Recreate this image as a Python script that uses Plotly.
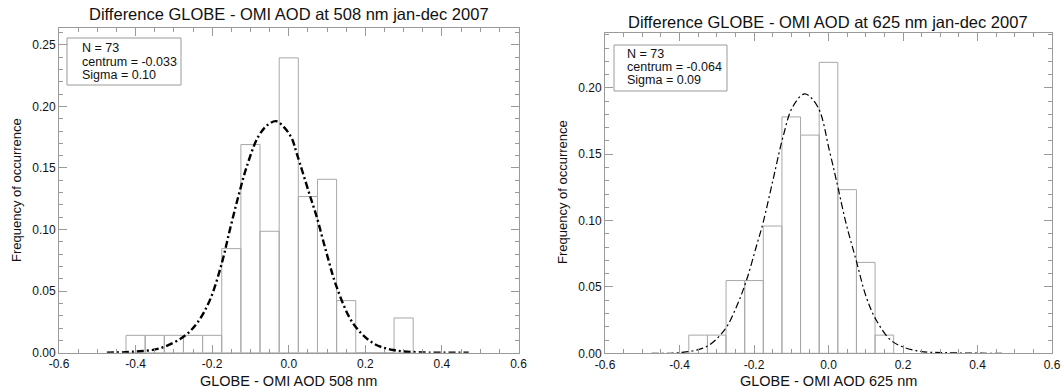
import plotly.graph_objects as go

W, H = 1062, 390

# ---------------- data ----------------
bin_centers = [-0.40, -0.35, -0.30, -0.25, -0.20, -0.15, -0.10, -0.05, 0.00,
               0.05, 0.10, 0.15, 0.20, 0.25, 0.30]
freq_508 = [0.0141, 0.0141, 0.0141, 0.0141, 0.0141, 0.0845, 0.1690, 0.0986,
            0.2394, 0.1268, 0.1408, 0.0423, 0.0, 0.0, 0.0282]

bin_centers_625 = [-0.35, -0.30, -0.25, -0.20, -0.15, -0.10, -0.05, 0.00,
                   0.05, 0.10, 0.15]
freq_625 = [0.0137, 0.0137, 0.0548, 0.0548, 0.0959, 0.1781, 0.1644, 0.2192,
            0.1233, 0.0685, 0.0137]

# fitted gaussian curves
fit508_x = [-0.475, -0.406, -0.336, -0.275, -0.240, -0.206, -0.175, -0.154,
            -0.132, -0.110, -0.080, -0.055, -0.033, -0.012, 0.008, 0.021,
            0.055, 0.073, 0.099, 0.125, 0.168, 0.221, 0.273, 0.343, 0.470]
fit508_y = [0.0, 0.0008, 0.0036, 0.0130, 0.0238, 0.0427, 0.0725, 0.0995,
            0.1265, 0.1508, 0.1752, 0.1850, 0.1880, 0.1830, 0.1740, 0.1617,
            0.1279, 0.1103, 0.0806, 0.0535, 0.0238, 0.0076, 0.0022, 0.0003, 0.0]

fit625_x = [-0.475, -0.399, -0.328, -0.279, -0.247, -0.220, -0.194, -0.176,
            -0.149, -0.122, -0.096, -0.064, -0.029, 0.003, 0.025, 0.047,
            0.074, 0.101, 0.128, 0.172, 0.235, 0.315, 0.471]
fit625_y = [0.0, 0.0005, 0.0050, 0.0176, 0.0351, 0.0552, 0.0803, 0.0980,
            0.1306, 0.1632, 0.1858, 0.1954, 0.1858, 0.1520, 0.1255, 0.0980,
            0.0703, 0.0427, 0.0251, 0.0088, 0.0020, 0.0005, 0.0]

titles = ["Difference GLOBE - OMI AOD at 508 nm jan-dec 2007",
          "Difference GLOBE - OMI AOD at 625 nm jan-dec 2007"]
xtitles = ["GLOBE - OMI AOD 508 nm", "GLOBE - OMI AOD 625 nm"]
ytitle = "Frequency of occurrence"
stats_508 = ["N = 73", "centrum = -0.033", "Sigma = 0.10"]
stats_625 = ["N = 73", "centrum = -0.064", "Sigma = 0.09"]

x_tickvals = [-0.6, -0.4, -0.2, 0.0, 0.2, 0.4, 0.6]
x_ticktext = ["-0.6", "-0.4", "-0.2", "0.0", "0.2", "0.4", "0.6"]
y_tickvals = [0.0, 0.05, 0.10, 0.15, 0.20, 0.25]
y_ticktext = ["0.00", "0.05", "0.10", "0.15", "0.20", "0.25"]
x_range = [-0.6, 0.6]
y_max = [0.2634, 0.2411]

# ---------------- styling ----------------
FONT = "Liberation Sans, Arial, Helvetica, sans-serif"
FRAME = "#9a9a9a"
BARLINE = "#a8a8a8"
TXT = "#111"


def px(x):
    return x / W


def py(y):
    return 1 - y / H


fig = go.Figure()

fig.add_trace(go.Bar(x=bin_centers, y=freq_508, width=0.05,
                     marker=dict(color="rgba(255,255,255,0)",
                                 line=dict(color=BARLINE, width=1)),
                     xaxis="x", yaxis="y", showlegend=False))
fig.add_trace(go.Scatter(x=fit508_x, y=fit508_y, mode="lines",
                         line=dict(color="black", width=2.4, dash="7px,3px,2px,3px",
                                   shape="spline", smoothing=1.0),
                         xaxis="x", yaxis="y", showlegend=False))

fig.add_trace(go.Bar(x=bin_centers_625, y=freq_625, width=0.05,
                     marker=dict(color="rgba(255,255,255,0)",
                                 line=dict(color=BARLINE, width=1)),
                     xaxis="x2", yaxis="y2", showlegend=False))
fig.add_trace(go.Scatter(x=fit625_x, y=fit625_y, mode="lines",
                         line=dict(color="black", width=1.2, dash="7px,3px,2px,3px",
                                   shape="spline", smoothing=1.0),
                         xaxis="x2", yaxis="y2", showlegend=False))

common_axis = dict(showline=True, linecolor=FRAME, linewidth=1, mirror="allticks",
                   ticks="inside", tickcolor=FRAME, ticklen=8, tickwidth=1,
                   showgrid=False, zeroline=False, automargin=False,
                   tickfont=dict(family=FONT, size=12, color=TXT))
xminor = dict(dtick=0.05, ticks="inside", ticklen=4, tickcolor=FRAME)
yminor = dict(dtick=0.01, ticks="inside", ticklen=4, tickcolor=FRAME)

# pixel geometry of the two plot frames
left = dict(x0=59, x1=518.5, y0=28.3, y1=352.7)
right = dict(x0=605, x1=1052, y0=33.3, y1=353.3)

fig.update_layout(
    width=W, height=H, margin=dict(l=0, r=0, t=0, b=0, autoexpand=False),
    paper_bgcolor="white", plot_bgcolor="white",
    barmode="overlay", font=dict(family=FONT, color=TXT),
    xaxis=dict(domain=[px(left["x0"]), px(left["x1"])], range=x_range,
               tickvals=x_tickvals, ticktext=x_ticktext, anchor="y",
               minor=xminor, **common_axis),
    yaxis=dict(domain=[py(left["y1"]), py(left["y0"])], range=[0, y_max[0]],
               tickvals=y_tickvals, ticktext=y_ticktext, anchor="x",
               minor=yminor, **common_axis),
    xaxis2=dict(domain=[px(right["x0"]), px(right["x1"])], range=x_range,
                tickvals=x_tickvals, ticktext=x_ticktext, anchor="y2",
                minor=xminor, **common_axis),
    yaxis2=dict(domain=[py(right["y1"]), py(right["y0"])], range=[0, y_max[1]],
                tickvals=y_tickvals, ticktext=y_ticktext, anchor="x2",
                minor=yminor, **common_axis),
)

ann = []


def text(x, y, t, size, xanchor="center", angle=0):
    ann.append(dict(x=px(x), y=py(y), text=t, xref="paper", yref="paper",
                    showarrow=False, xanchor=xanchor, yanchor="middle",
                    textangle=angle, font=dict(family=FONT, size=size, color=TXT)))


# titles
text(288.7, 14, titles[0], 16.5)
text(828, 22, titles[1], 16.5)
# x-axis titles
text(288.7, 381, xtitles[0], 14.5)
text(828, 381, xtitles[1], 14.5)
# y-axis titles
text(16, 190, ytitle, 13, angle=-90)
text(562, 192, ytitle, 13, angle=-90)
# statistics boxes
for i, s in enumerate(stats_508):
    text(80, 48 + i * 13.5, s, 12.5, xanchor="left")
for i, s in enumerate(stats_625):
    text(625, 54 + i * 13.2, s, 12.5, xanchor="left")
fig.update_layout(annotations=ann)

shapes = []
for x0, y0, x1, y1 in [(67, 38, 181, 85), (614, 45, 727, 91)]:
    shapes.append(dict(type="rect", xref="paper", yref="paper",
                       x0=px(x0), x1=px(x1), y0=py(y1), y1=py(y0),
                       line=dict(color=FRAME, width=1), fillcolor="rgba(0,0,0,0)"))
fig.update_layout(shapes=shapes)

fig.write_html("out.html")
